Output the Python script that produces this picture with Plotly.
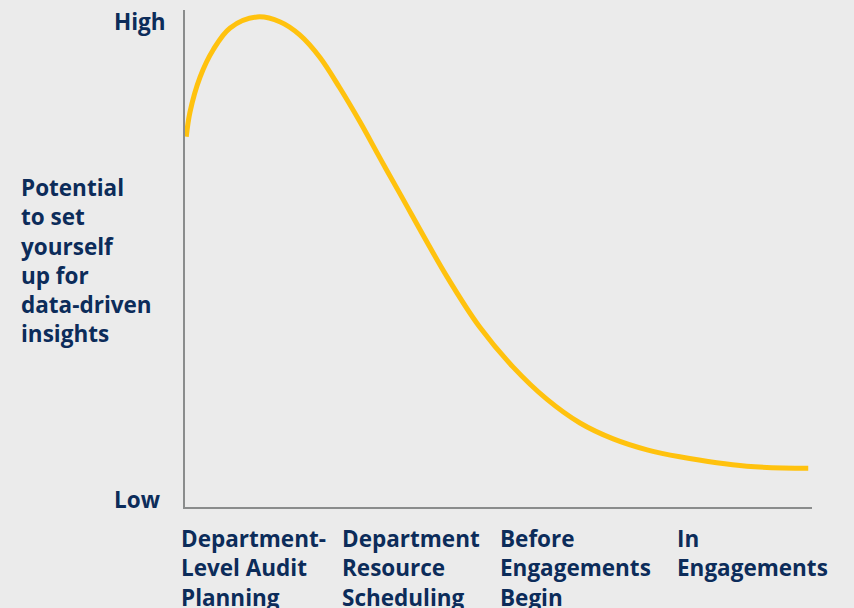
import plotly.graph_objects as go

# curve (x: 0-100 across the axis, y: 0-100 Low->High)
curve_x = [0.2, 0.8, 2.4, 4.5, 7.2, 11.5, 15.2, 18.3, 21.5, 24.7, 27.9, 31.1, 34.3,
           41.8, 47.0, 52.3, 57.7, 63.0, 68.3, 73.7, 78.9, 89.6, 99.4]
curve_y = [74.5, 79.5, 86.5, 92.0, 96.4, 98.6, 97.6, 95.0, 90.5, 84.3, 77.5, 70.2, 63.0,
           46.3, 36.2, 28.2, 21.7, 16.9, 13.7, 11.5, 10.1, 8.2, 7.8]

stages = ["Department-<br>Level Audit<br>Planning",
          "Department<br>Resource<br>Scheduling",
          "Before<br>Engagements<br>Begin",
          "In<br>Engagements"]
# left edge of each label, as a fraction of the axis width
stage_pos = [-0.0096, 0.2472, 0.4992, 0.7815]

navy = "#0c2c5a"
font = dict(family="Open Sans", size=22.5, color=navy, weight="bold")

fig = go.Figure()
fig.add_trace(go.Scatter(
    x=curve_x, y=curve_y, mode="lines",
    line=dict(color="#ffc20e", width=5, shape="spline", smoothing=1.0),
    hoverinfo="skip",
))

annotations = []
for lab, sx in zip(stages, stage_pos):
    annotations.append(dict(
        x=sx, y=-0.029, xref="paper", yref="paper", text=lab, showarrow=False,
        xanchor="left", yanchor="top", align="left", font=font,
    ))
annotations.append(dict(x=-0.1164, y=97.6, xref="paper", yref="y", text="High",
                        showarrow=False, xanchor="left", yanchor="middle", font=font))
annotations.append(dict(x=-0.1164, y=1.6, xref="paper", yref="y", text="Low",
                        showarrow=False, xanchor="left", yanchor="middle", font=font))
annotations.append(dict(
    x=-0.265, y=49.5, xref="paper", yref="y",
    text="Potential<br>to set<br>yourself<br>up for<br>data-driven<br>insights",
    showarrow=False, xanchor="left", yanchor="middle", align="left", font=font,
))

fig.update_layout(
    width=854, height=608,
    margin=dict(l=185, r=42, t=10, b=101),
    paper_bgcolor="#ebebeb", plot_bgcolor="#ebebeb",
    showlegend=False,
    annotations=annotations,
)
fig.update_xaxes(range=[0, 100], showline=True, linecolor="#8a8c8c", linewidth=2,
                 showgrid=False, zeroline=False, showticklabels=False, ticks="")
fig.update_yaxes(range=[0, 100], showline=True, linecolor="#8a8c8c", linewidth=2,
                 showgrid=False, zeroline=False, showticklabels=False, ticks="")

# drop the browser's default page margin so the figure sits at the top-left corner
fig.write_html("out.html", config={"displayModeBar": False},
               post_script="document.body.style.margin='0';")
